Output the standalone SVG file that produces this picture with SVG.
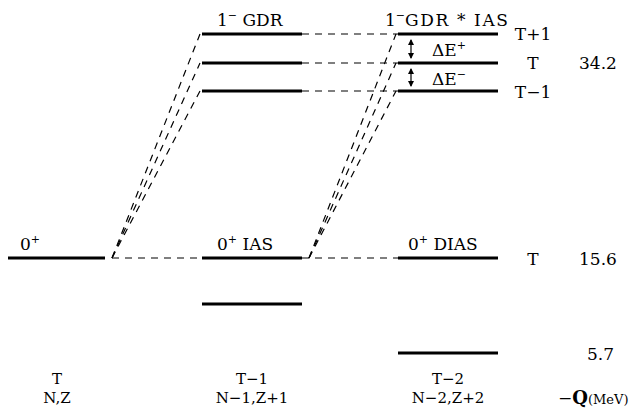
<svg xmlns="http://www.w3.org/2000/svg" width="634" height="415" viewBox="0 0 634 415">
  <style>
    text { font-family: "DejaVu Serif", "Liberation Serif", serif; font-size: 17px; fill: #000; }
    .lvl { stroke: #000; stroke-width: 3; }
    .dash { stroke: #000; stroke-width: 1.2; stroke-dasharray: 7 6; fill: none; }
    .mid { text-anchor: middle; }
    .sup { font-size: 11px; }
    .foot { font-size: 15px; }
  </style>
  <defs>
    <marker id="tip" viewBox="0 0 6 6" refX="5" refY="3" markerWidth="5" markerHeight="5" orient="auto-start-reverse">
      <path d="M0,0 L6,3 L0,6 z" fill="#000"/>
    </marker>
  </defs>

  <!-- connectors -->
  <g id="connectors">
    <path class="dash" d="M112,258 L202,258"/>
    <path class="dash" d="M112,258 L200,34"/>
    <path class="dash" d="M112,258 L200,63"/>
    <path class="dash" d="M112,258 L200,91"/>
    <path class="dash" d="M302,34 L398,34"/>
    <path class="dash" d="M302,63 L398,63"/>
    <path class="dash" d="M302,91 L398,91"/>
    <path class="dash" d="M302,258 L398,258"/>
    <path class="dash" d="M309,258 L396,34"/>
    <path class="dash" d="M309,258 L396,63"/>
    <path class="dash" d="M309,258 L396,91"/>
  </g>

  <!-- nucleus N,Z -->
  <g id="parent">
    <line class="lvl" x1="8" y1="258" x2="105" y2="258"/>
    <text x="20" y="250">0<tspan class="sup" dy="-7">+</tspan></text>
    <text class="mid foot" x="57" y="384">T</text>
    <text class="mid foot" x="57" y="403">N,Z</text>
  </g>

  <!-- nucleus N-1,Z+1 -->
  <g id="gdr">
    <line class="lvl" x1="202" y1="34" x2="302" y2="34"/>
    <line class="lvl" x1="202" y1="63" x2="302" y2="63"/>
    <line class="lvl" x1="202" y1="91" x2="302" y2="91"/>
    <text x="217" y="26">1<tspan class="sup" dy="-7">−</tspan><tspan dy="7"> GDR</tspan></text>
  </g>
  <g id="ias">
    <line class="lvl" x1="202" y1="258" x2="302" y2="258"/>
    <text x="217" y="250">0<tspan class="sup" dy="-7">+</tspan><tspan dy="7">  IAS</tspan></text>
  </g>
  <g id="ground1">
    <line class="lvl" x1="202" y1="304" x2="302" y2="304"/>
    <text class="mid foot" x="252" y="384">T−1</text>
    <text class="mid foot" x="252" y="403">N−1,Z+1</text>
  </g>

  <!-- nucleus N-2,Z+2 -->
  <g id="gdr-ias">
    <line class="lvl" x1="398" y1="34" x2="498" y2="34"/>
    <line class="lvl" x1="398" y1="63" x2="498" y2="63"/>
    <line class="lvl" x1="398" y1="91" x2="498" y2="91"/>
    <text x="385" y="26">1<tspan class="sup" dy="-7">−</tspan></text>
    <text x="405" y="26" textLength="103" lengthAdjust="spacing">GDR * IAS</text>
    <line x1="411" y1="40" x2="411" y2="58" stroke="#000" stroke-width="1.2" marker-start="url(#tip)" marker-end="url(#tip)"/>
    <line x1="411" y1="69" x2="411" y2="86" stroke="#000" stroke-width="1.2" marker-start="url(#tip)" marker-end="url(#tip)"/>
    <text x="432" y="56">ΔE<tspan class="sup" dy="-7">+</tspan></text>
    <text x="432" y="85">ΔE<tspan class="sup" dy="-7">−</tspan></text>
    <text class="mid" x="533" y="40">T+1</text>
    <text class="mid" x="533" y="69">T</text>
    <text class="mid" x="533" y="98">T−1</text>
    <text x="579" y="69">34.2</text>
  </g>
  <g id="dias">
    <line class="lvl" x1="398" y1="258" x2="498" y2="258"/>
    <text x="408" y="250">0<tspan class="sup" dy="-7">+</tspan><tspan dy="7">  DIAS</tspan></text>
    <text class="mid" x="533" y="265">T</text>
    <text x="579" y="265">15.6</text>
  </g>
  <g id="ground2">
    <line class="lvl" x1="398" y1="353" x2="498" y2="353"/>
    <text x="587" y="360">5.7</text>
    <text class="mid foot" x="448" y="384">T−2</text>
    <text class="mid foot" x="448" y="403">N−2,Z+2</text>
  </g>

  <!-- energy axis label -->
  <g id="axis">
    <text x="558" y="404">−<tspan font-weight="bold" font-size="18">Q</tspan><tspan font-size="13">(MeV)</tspan></text>
  </g>
</svg>
